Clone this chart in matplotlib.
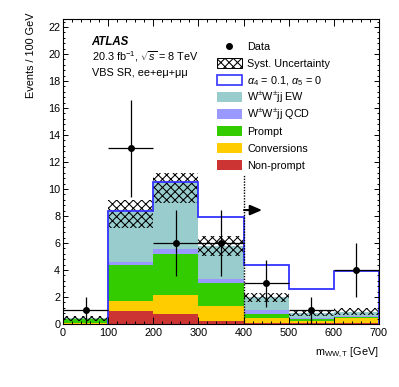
import matplotlib
matplotlib.use("Agg")
import matplotlib.pyplot as plt
from matplotlib.patches import Rectangle
from matplotlib.ticker import MultipleLocator

plt.rcParams['font.family'] = ['Liberation Sans', 'DejaVu Sans']
plt.rcParams['mathtext.fontset'] = 'custom'
plt.rcParams['mathtext.rm'] = 'Liberation Sans'
plt.rcParams['mathtext.it'] = 'Liberation Sans:italic'
plt.rcParams['hatch.linewidth'] = 0.75

# binning m_WW,T [GeV]
edges = [0, 100, 200, 300, 400, 500, 600, 700]
centers = [50, 150, 250, 350, 450, 550, 650]

# stacked backgrounds (bottom -> top)
nonprompt = [0.03, 0.98, 0.74, 0.22, 0.10, 0.05, 0.05]
conversions = [0.07, 0.70, 1.41, 1.14, 0.32, 0.15, 0.37]
prompt = [0.25, 2.69, 3.01, 1.65, 0.32, 0.15, 0.12]
ww_qcd = [0.02, 0.22, 0.37, 0.32, 0.30, 0.10, 0.08]
ww_ew = [0.05, 3.71, 4.97, 2.47, 0.96, 0.35, 0.30]

# systematic band (lower / upper edge)
syst_lo = [0.25, 7.10, 8.95, 5.00, 1.61, 0.62, 0.67]
syst_hi = [0.59, 9.20, 11.20, 6.54, 2.32, 0.99, 1.16]

# aQGC signal alpha4 = 0.1, alpha5 = 0 (drawn from 100 GeV)
aqgc_edges = [100, 200, 300, 400, 500, 600, 700]
aqgc = [8.37, 10.52, 7.95, 4.39, 2.57, 3.95]

# data
data = [1, 13, 6, 6, 3, 1, 4]
data_err = [1.0, 3.6, 2.45, 2.45, 1.73, 1.0, 2.0]

colors = {
    'nonprompt': '#cc3333',
    'conversions': '#ffcc00',
    'prompt': '#33cc00',
    'qcd': '#9999ff',
    'ew': '#99cccc',
}
blue = '#3333ff'

W, H = 399, 387
fig = plt.figure(figsize=(W / 100, H / 100), dpi=100)
ax = fig.add_axes([63 / W, 1 - 324 / H, 316 / W, (324 - 19.3) / H])

# stack
bottom = [0.0] * len(centers)
for vals, key in [(nonprompt, 'nonprompt'), (conversions, 'conversions'),
                  (prompt, 'prompt'), (ww_qcd, 'qcd'), (ww_ew, 'ew')]:
    ax.bar(centers, vals, width=100, bottom=bottom, color=colors[key], linewidth=0)
    bottom = [b + v for b, v in zip(bottom, vals)]

# syst band
ax.bar(centers, [h - l for h, l in zip(syst_hi, syst_lo)], width=100, bottom=syst_lo,
       fill=False, hatch='xxxx', edgecolor='black', linewidth=0)

# signal line
ax.stairs(aqgc, aqgc_edges, baseline=0, color=blue, linewidth=1.3)

# cut line and arrow
ax.plot([400, 400], [0, 11.04], ls=(0, (1, 1)), color='black', lw=1.0)
ax.annotate('', xy=(441, 8.44), xytext=(401, 8.44),
            arrowprops=dict(arrowstyle='-|>,head_length=0.7,head_width=0.3',
                            color='black', lw=1.5, mutation_scale=10,
                            shrinkA=0, shrinkB=0))

# data
ax.errorbar(centers, data, yerr=data_err, xerr=50, fmt='o', color='black',
            ms=4, lw=0.9, capsize=0)

ax.set_xlim(0, 700)
ax.set_ylim(0, 22.57)
ax.xaxis.set_major_locator(MultipleLocator(100))
ax.xaxis.set_minor_locator(MultipleLocator(20))
ax.yaxis.set_major_locator(MultipleLocator(2))
ax.yaxis.set_minor_locator(MultipleLocator(0.4))
ax.tick_params(axis='both', which='both', direction='in', top=True, right=True,
               labelsize=7.8, width=0.7)
ax.tick_params(axis='x', which='major', length=5, pad=3)
ax.tick_params(axis='x', which='minor', length=2.5)
ax.tick_params(axis='y', which='major', length=3.4, pad=2)
ax.tick_params(axis='y', which='minor', length=1.7)
for s in ax.spines.values():
    s.set_linewidth(0.8)

fig.text(31.5 / W, 1 - 13 / H, 'Events / 100 GeV', rotation=90,
         ha='center', va='top', fontsize=7.8)
fig.text(379 / W, 1 - 353 / H, r'm$_{\mathrm{WW,T}}$ [GeV]',
         ha='right', va='center', fontsize=7.8)

# labels
fig.text(91.7 / W, 1 - 42.3 / H, 'ATLAS', fontsize=8.3, fontweight='bold',
         fontstyle='italic', va='center')
fig.text(91.7 / W, 1 - 61 / H, r'20.3 fb$^{-1}$, $\sqrt{s}$ = 8 TeV',
         fontsize=7.8, va='baseline')
fig.text(91.7 / W, 1 - 76.5 / H, 'VBS SR, ee+eμ+μμ', fontsize=7.8, va='baseline')

# legend, drawn row by row so that the rows are evenly spaced
labels = ['Data', 'Syst. Uncertainty', r'$\alpha_4$ = 0.1, $\alpha_5$ = 0',
          r'W$^{\pm}$W$^{\pm}$jj EW', r'W$^{\pm}$W$^{\pm}$jj QCD',
          'Prompt', 'Conversions', 'Non-prompt']
styles = [
    None,
    dict(facecolor='white', edgecolor='black', hatch='xxxx', linewidth=0.7),
    dict(facecolor='white', edgecolor=blue, linewidth=1.2),
    dict(facecolor=colors['ew'], edgecolor='none'),
    dict(facecolor=colors['qcd'], edgecolor='none'),
    dict(facecolor=colors['prompt'], edgecolor='none'),
    dict(facecolor=colors['conversions'], edgecolor='none'),
    dict(facecolor=colors['nonprompt'], edgecolor='none'),
]
for i, (lab, st) in enumerate(zip(labels, styles)):
    yc = 46 + 17 * i
    if st is None:
        fig.add_artist(plt.Line2D([229 / W], [1 - yc / H], marker='o', color='black',
                                  ms=4, ls='none', transform=fig.transFigure))
    else:
        fig.add_artist(Rectangle((217 / W, 1 - (yc + 5) / H), 25 / W, 10 / H,
                                 transform=fig.transFigure, **st))
    fig.text(247 / W, 1 - (yc + 3.9) / H, lab, fontsize=7.8, va='baseline')

fig.savefig('out.png', dpi=100)
